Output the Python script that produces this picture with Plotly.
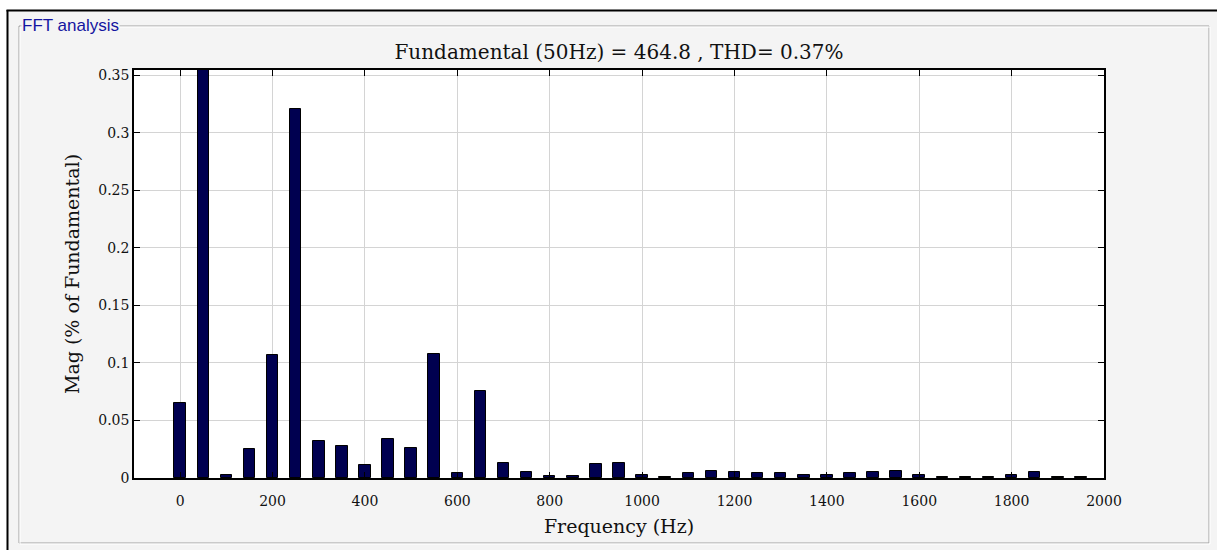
import plotly.graph_objects as go

# ---- data ----
freq_hz = [0, 50, 100, 150, 200, 250, 300, 350, 400, 450, 500, 550, 600, 650, 700,
           750, 800, 850, 900, 950, 1000, 1050, 1100, 1150, 1200, 1250, 1300, 1350,
           1400, 1450, 1500, 1550, 1600, 1650, 1700, 1750, 1800, 1850, 1900, 1950]
mag_pct = [0.065, 100.0, 0.003, 0.025, 0.107, 0.321, 0.032, 0.028, 0.011, 0.034,
           0.026, 0.108, 0.0045, 0.076, 0.013, 0.0055, 0.002, 0.002, 0.012, 0.013,
           0.003, 0.0012, 0.004, 0.0064, 0.005, 0.004, 0.004, 0.0026, 0.0026, 0.004,
           0.0052, 0.0064, 0.0026, 0.0012, 0.0012, 0.0012, 0.0026, 0.0052, 0.0012, 0.0012]
x_tick_vals = [0, 200, 400, 600, 800, 1000, 1200, 1400, 1600, 1800, 2000]
x_tick_text = ["0", "200", "400", "600", "800", "1000", "1200", "1400", "1600", "1800", "2000"]
y_tick_vals = [0, 0.05, 0.1, 0.15, 0.2, 0.25, 0.3, 0.35]
y_tick_text = ["0", "0.05", "0.1", "0.15", "0.2", "0.25", "0.3", "0.35"]
title_text = "Fundamental (50Hz) = 464.8 , THD= 0.37%"

W, H = 1217, 550
L, R, T, B = 134, 1104, 70, 478
PW, PH = R - L, B - T


def px(x):
    return (x - L) / PW


def py(y):
    return (B - y) / PH


SERIF = "DejaVu Serif, Liberation Serif, serif"

fig = go.Figure()
fig.add_trace(go.Bar(
    x=freq_hz, y=mag_pct, width=25,
    marker=dict(color="#000050", line=dict(color="#000000", width=1)),
    hoverinfo="x+y",
))

shapes = []
# white outside strips
shapes.append(dict(type="rect", xref="paper", yref="paper", x0=px(0), x1=px(W), y0=py(0), y1=py(9.5),
                   fillcolor="white", line=dict(width=0), layer="below"))
shapes.append(dict(type="rect", xref="paper", yref="paper", x0=px(0), x1=px(6.5), y0=py(0), y1=py(H),
                   fillcolor="white", line=dict(width=0), layer="below"))
# outer black frame lines
shapes.append(dict(type="line", xref="paper", yref="paper", x0=px(6.5), x1=px(W), y0=py(10.5), y1=py(10.5),
                   line=dict(color="#000000", width=2), layer="below"))
shapes.append(dict(type="line", xref="paper", yref="paper", x0=px(7.5), x1=px(7.5), y0=py(10), y1=py(H),
                   line=dict(color="#000000", width=2), layer="below"))
# group box (etched)
shapes.append(dict(type="rect", xref="paper", yref="paper", x0=px(19), x1=px(1209), y0=py(26), y1=py(543),
                   line=dict(color="#a0a0a0", width=1), layer="below"))
shapes.append(dict(type="rect", xref="paper", yref="paper", x0=px(20), x1=px(1210), y0=py(27), y1=py(544),
                   line=dict(color="#ffffff", width=1), layer="below"))

fig.update_layout(
    width=W, height=H,
    margin=dict(l=L, r=W - R, t=T, b=H - B, pad=0),
    paper_bgcolor="#f4f4f4",
    plot_bgcolor="#ffffff",
    showlegend=False,
    bargap=0,
    shapes=shapes,
    title=dict(text=title_text, x=(L + R) / 2 / W, xanchor="center", y=1 - 52 / H, yanchor="middle",
               font=dict(family=SERIF, size=20, color="#111111")),
    xaxis=dict(range=[-100, 2000], tickvals=x_tick_vals, ticktext=x_tick_text,
               ticks="inside", ticklen=6, tickcolor="#000000", tickwidth=1,
               showline=True, linecolor="#000000", linewidth=1.5, mirror="allticks",
               showgrid=True, gridcolor="#d4d4d4", gridwidth=1, zeroline=False,
               ticklabelstandoff=9,
               tickfont=dict(family=SERIF, size=14, color="#111111"),
               title=dict(text="Frequency (Hz)", font=dict(family=SERIF, size=19, color="#111111"),
                          standoff=12)),
    yaxis=dict(range=[0, 0.3545], tickvals=y_tick_vals, ticktext=y_tick_text,
               ticks="inside", ticklen=6, tickcolor="#000000", tickwidth=1,
               showline=True, linecolor="#000000", linewidth=1.5, mirror="allticks",
               showgrid=True, gridcolor="#d4d4d4", gridwidth=1, zeroline=False,
               tickfont=dict(family=SERIF, size=14, color="#111111"),
               title=dict(text="Mag (% of Fundamental)", font=dict(family=SERIF, size=19, color="#111111"),
                          standoff=14)),
    annotations=[dict(text="FFT analysis", xref="paper", yref="paper", x=px(21), y=py(26),
                      xanchor="left", yanchor="middle", showarrow=False, bgcolor="#f4f4f4",
                      borderpad=0,
                      font=dict(family="Liberation Sans, Arial, sans-serif", size=17, color="#1414a0"))],
)

fig.write_html("out.html", config={"displayModeBar": False},
               post_script="document.body.style.margin='0';document.body.style.padding='0';")
